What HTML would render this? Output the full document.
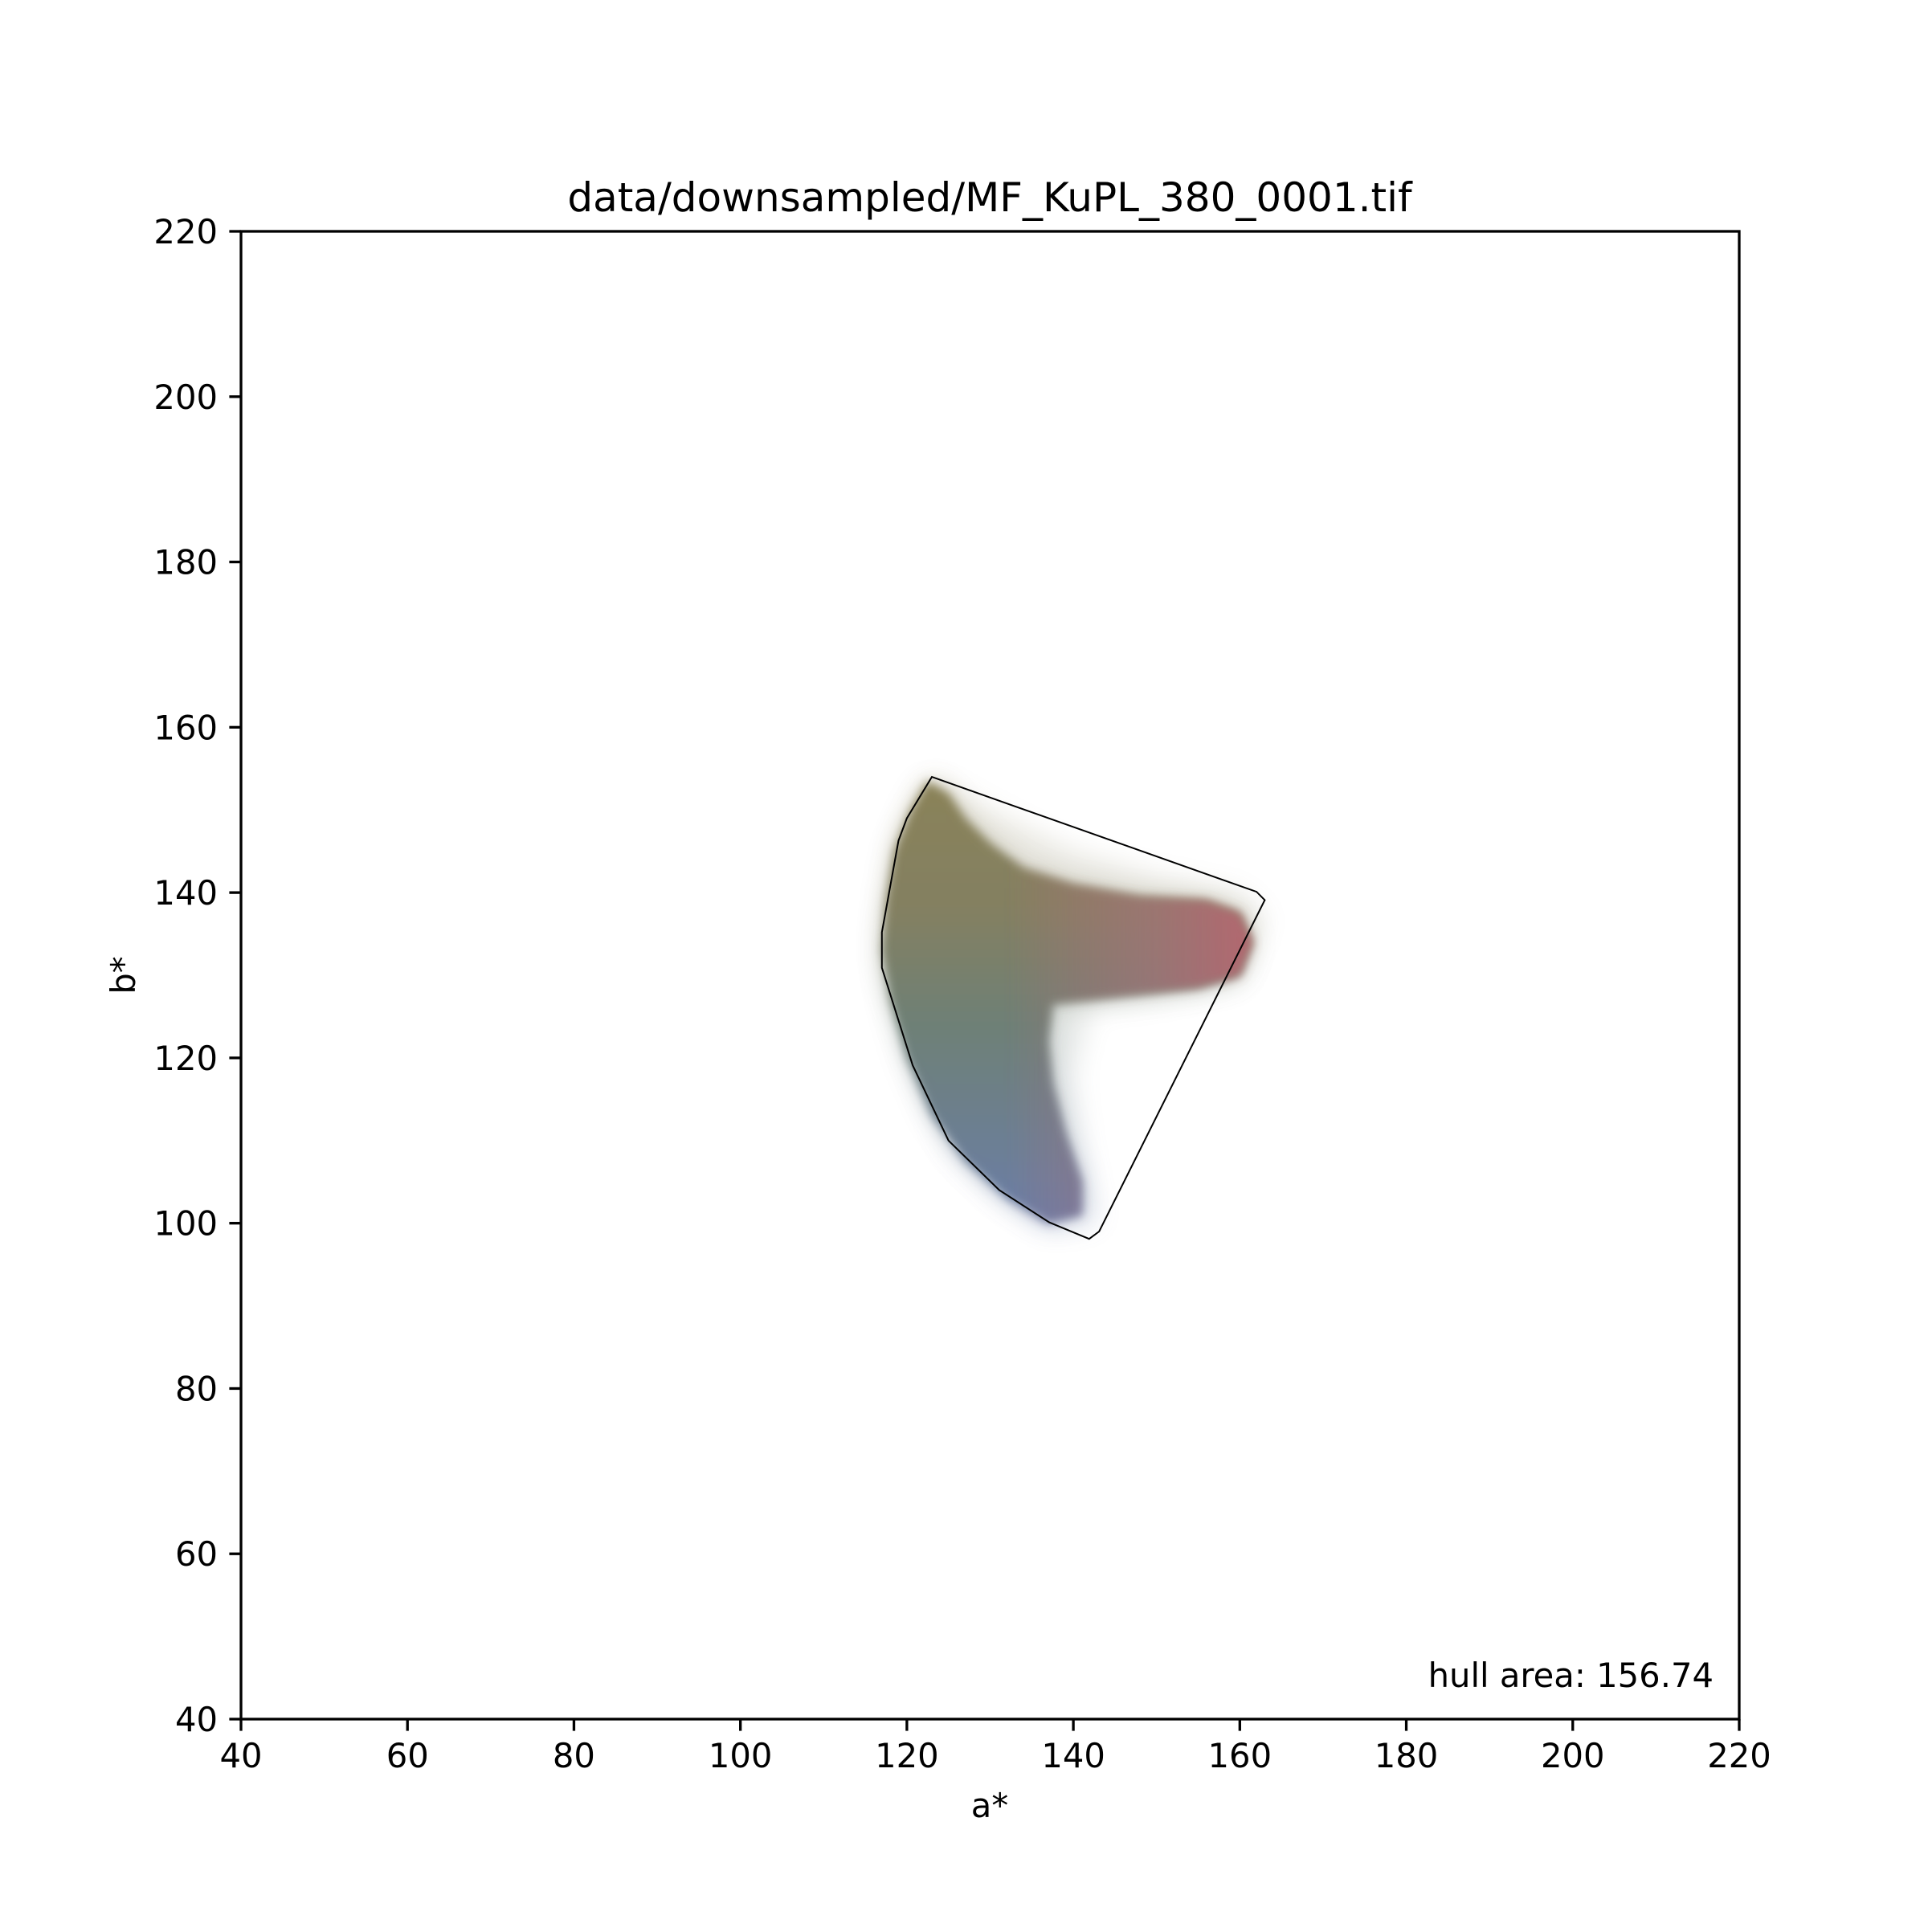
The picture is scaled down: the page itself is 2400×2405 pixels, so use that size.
<!DOCTYPE html>
<html><head><meta charset="utf-8"><style>
html,body{margin:0;padding:0;background:#fff;}
svg text{font-family:"DejaVu Sans","Liberation Sans",sans-serif;fill:#000;}
</style></head><body>
<svg id="chart" width="2400" height="2400" viewBox="0 0 2400 2400" xmlns="http://www.w3.org/2000/svg">
<defs>
<linearGradient id="vgrad" x1="0" y1="0" x2="0" y2="1">
<stop offset="0" stop-color="#8a8258"/><stop offset="0.3" stop-color="#838062"/><stop offset="0.55" stop-color="#6e8076"/><stop offset="1" stop-color="#6b7ea8"/>
</linearGradient>
<linearGradient id="hgrad" gradientUnits="userSpaceOnUse" x1="1255" y1="0" x2="1565" y2="0">
<stop offset="0" stop-color="#b06a78" stop-opacity="0"/><stop offset="0.55" stop-color="#a8707a" stop-opacity="0.6"/><stop offset="1" stop-color="#b8646f" stop-opacity="0.95"/>
</linearGradient>
<filter id="soft" x="-10%" y="-10%" width="120%" height="120%"><feGaussianBlur stdDeviation="6"/></filter>
<filter id="halo" x="-20%" y="-20%" width="140%" height="140%"><feGaussianBlur stdDeviation="16"/></filter>
</defs>
<g id="plot"></g>
<text x="1232" y="263" font-size="50" text-anchor="middle">data/downsampled/MF_KuPL_380_0001.tif</text>
<text x="1232" y="2262" font-size="41.7" text-anchor="middle">a*</text>
<text x="168" y="1214" font-size="41.7" text-anchor="middle" transform="rotate(-90 168 1214)">b*</text>
<text x="2133" y="2100" font-size="41.7" text-anchor="end">hull area: 156.74</text>
</svg>
<script>
const xTicks = [40,60,80,100,120,140,160,180,200,220];
const yTicks = [40,60,80,100,120,140,160,180,200,220];
const hullA = [123,162,163,143.1,141.9,137.1,131.1,125,120.7,117,117,119,120];
const hullB = [154,140.1,139.1,99,98.1,100.1,104,110,119.1,130.9,135.2,146.3,149];
const cloudA = [122.5,125,127,130,134,140,148,156,160,161.5,160,155,146,137.5,137,137.5,139,141,141,137,132,127,123,120,118,117,117.5,118.5,120.5];
const cloudB = [153.5,152,149,146,143,141,139.5,139,137.5,134,130,128.5,127.5,126.5,122,117,111,105,101,100,103,107.5,113,120,127,133,139,145,150];
const sparseA = [123,130,140,150,160,163,160,150,142,140,141,143,137,131,125,121,117,117,119];
const sparseB = [154,150,145,142,140,137,129,127,126,118,110,100,99,103,109,118,130,136,147];

const X0=300,X1=2165,Y0=2140,Y1=288;
const xs = v => X0 + (v-40)/(220-40)*(X1-X0);
const ys = v => Y0 - (v-40)/(220-40)*(Y0-Y1);
const NS='http://www.w3.org/2000/svg';
const plot=document.getElementById('plot');
function mk(tag,attrs,parent){const e=document.createElementNS(NS,tag);for(const k in attrs)e.setAttribute(k,attrs[k]);(parent||plot).appendChild(e);return e;}
function pts(A,B){return A.map((a,i)=>xs(a).toFixed(1)+','+ys(B[i]).toFixed(1)).join(' ');}

let sp = mk('polygon',{points:pts(sparseA,sparseB),fill:'url(#vgrad)',opacity:'0.18',filter:'url(#halo)'});


const cp = pts(cloudA,cloudB);
let h = mk('polygon',{points:cp,fill:'url(#vgrad)',opacity:'0.35',filter:'url(#halo)'});


let c1 = mk('polygon',{points:cp,fill:'url(#vgrad)',filter:'url(#soft)'});


let c2 = mk('polygon',{points:cp,fill:'url(#hgrad)',filter:'url(#soft)'});



let hull = mk('polygon',{points:pts(hullA,hullB),fill:'none',stroke:'#000','stroke-width':'2','stroke-linejoin':'miter'});



let frame = mk('rect',{x:X0,y:Y1,width:X1-X0,height:Y0-Y1,fill:'none',stroke:'#000','stroke-width':'3.3'});



xTicks.forEach(t=>{
  const x=xs(t);
  const l=mk('line',{x1:x,x2:x,y1:Y0,y2:Y0+14.6,stroke:'#000','stroke-width':'3.3'});
  
  
  const tx=mk('text',{x:x,y:Y0+60,'font-size':'41.7','text-anchor':'middle'});
  tx.textContent=t;
  
  
});
yTicks.forEach(t=>{
  const y=ys(t);
  const l=mk('line',{x1:X0-14.6,x2:X0,y1:y,y2:y,stroke:'#000','stroke-width':'3.3'});
  
  
  const tx=mk('text',{x:X0-29,y:y+15,'font-size':'41.7','text-anchor':'end'});
  tx.textContent=t;
  
  
});
</script>
</body></html>
